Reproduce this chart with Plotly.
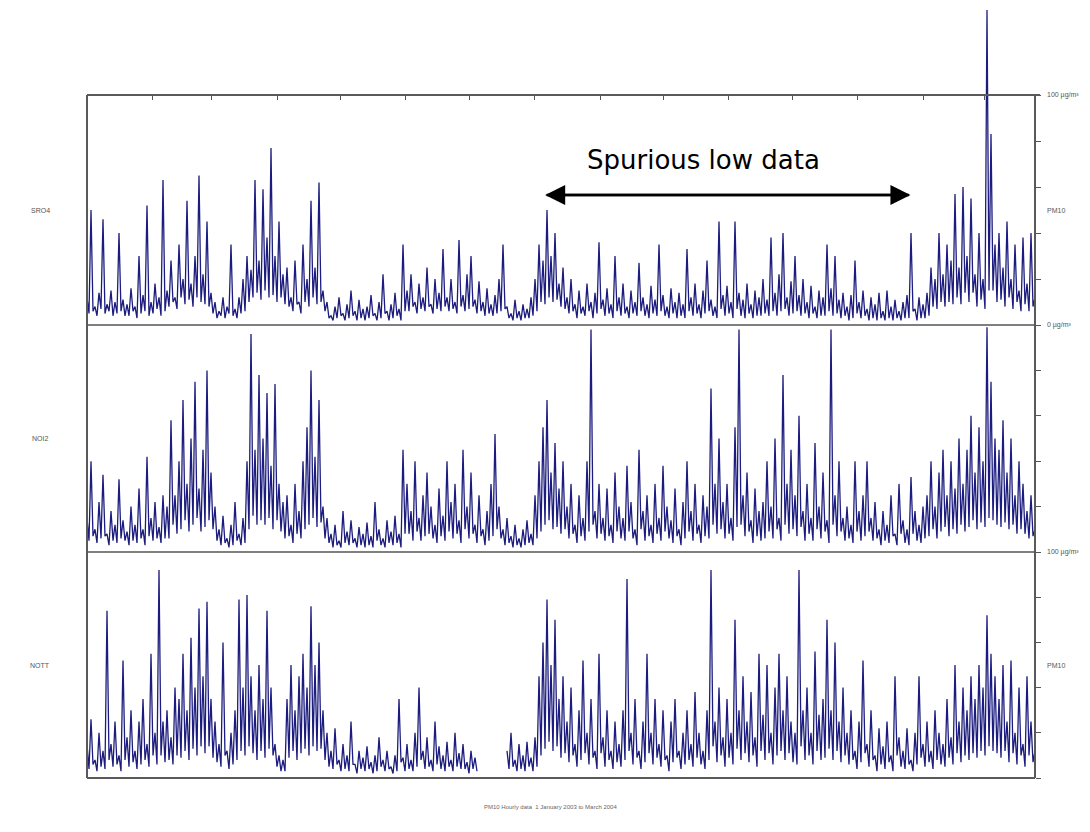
import pandas as pd
import plotly.graph_objects as go

# Hourly PM10 (µg/m³) at three monitoring sites, summarised per time step
# as the step's peak reading and its lowest reading.
site_names = ["SRO4", "NOI2", "NOTT"]

sro4_peak = [
    12, 50, 8, 14, 46, 9, 15, 10, 40, 11,
    9, 16, 8, 30, 13, 52, 10, 18, 12, 63,
    15, 28, 12, 35, 20, 54, 18, 30, 65, 22,
    45, 14, 10, 6, 12, 8, 35, 7, 12, 20,
    30, 24, 63, 28, 59, 38, 77, 30, 45, 22,
    25, 12, 28, 10, 35, 20, 54, 25, 62, 15,
    10, 4, 8, 12, 5, 9, 15, 6, 11, 7,
    8, 13, 5, 10, 22, 6, 9, 14, 7, 35,
    15, 22, 10, 18, 12, 25, 9, 20, 14, 33,
    12, 20, 10, 37, 13, 22, 30, 11, 19, 10,
    16, 9, 13, 20, 35, 8, 5, 11, 6, 9,
    7, 12, 20, 35, 28, 50, 30, 40, 18, 25,
    12, 20, 9, 15, 8, 18, 10, 14, 36, 11,
    16, 9, 30, 12, 18, 8, 15, 10, 27, 12,
    9, 17, 11, 35, 13, 8, 16, 10, 14, 9,
    33, 12, 18, 9, 15, 28, 11, 8, 45, 13,
    17, 10, 45, 14, 11, 18, 9, 15, 12, 20,
    11, 38, 14, 22, 40, 12, 19, 30, 13, 20,
    10, 17, 8, 15, 12, 35, 16, 30, 11, 14,
    8, 13, 28, 10, 15, 7, 12, 9, 14, 6,
    15, 8, 11, 6, 10, 13, 40, 7, 12, 9,
    14, 25, 20, 40, 22, 35, 28, 57, 25, 60,
    30, 55, 22, 40, 20, 137, 83, 35, 40, 25,
    45, 20, 35, 15, 38, 18, 40, 12,
]
sro4_low = [
    5, 6, 4, 7, 5, 6, 4, 5, 6, 4,
    4, 6, 3, 5, 6, 4, 5, 7, 4, 6,
    8, 10, 7, 12, 9, 11, 8, 12, 10, 9,
    8, 5, 3, 4, 3, 5, 4, 3, 5, 6,
    10, 12, 14, 11, 15, 12, 13, 10, 12, 9,
    8, 6, 9, 5, 10, 8, 12, 9, 10, 6,
    3, 2, 3, 4, 2, 3, 4, 2, 3, 2,
    3, 4, 2, 3, 5, 2, 3, 4, 2, 6,
    6, 8, 5, 7, 6, 8, 5, 7, 6, 8,
    6, 7, 5, 8, 6, 7, 8, 5, 6, 4,
    5, 4, 5, 6, 7, 3, 2, 3, 2, 3,
    3, 4, 6, 10, 9, 12, 10, 11, 8, 7,
    5, 6, 3, 5, 4, 6, 3, 5, 7, 4,
    5, 3, 6, 4, 5, 3, 5, 4, 6, 4,
    3, 5, 4, 6, 4, 3, 5, 3, 4, 3,
    6, 4, 5, 3, 5, 6, 4, 3, 7, 4,
    5, 3, 7, 4, 3, 5, 3, 4, 4, 5,
    4, 6, 4, 6, 7, 4, 5, 6, 4, 5,
    3, 5, 3, 4, 4, 6, 4, 5, 3, 4,
    2, 3, 5, 3, 4, 2, 3, 2, 3, 2,
    3, 2, 3, 2, 3, 3, 6, 2, 3, 3,
    4, 8, 7, 10, 8, 10, 9, 12, 9, 14,
    10, 14, 8, 11, 7, 15, 15, 10, 11, 8,
    12, 7, 10, 6, 9, 6, 8, 4,
]

noi2_peak = [
    15, 40, 10, 22, 34, 8, 18, 12, 32, 14,
    9, 20, 12, 28, 10, 42, 15, 22, 11, 25,
    20, 58, 25, 40, 67, 30, 50, 75, 28, 45,
    80, 35, 20, 10, 16, 6, 12, 22, 8, 15,
    40, 96, 45, 78, 50, 70, 38, 74, 30, 22,
    25, 12, 30, 18, 40, 55, 80, 42, 67, 20,
    15, 8, 12, 5, 18, 9, 14, 6, 11, 8,
    13, 7, 22, 10, 6, 14, 9, 16, 8, 45,
    30, 18, 40, 15, 25, 35, 20, 12, 28, 16,
    40, 22, 30, 14, 45, 20, 35, 12, 25, 10,
    18, 30, 52, 20, 10, 15, 7, 12, 6, 10,
    14, 8, 25, 40, 55, 67, 35, 48, 28, 40,
    20, 30, 12, 25, 15, 40, 98, 18, 30, 15,
    28, 12, 35, 20, 15, 38, 22, 10, 45, 18,
    25, 12, 30, 15, 38, 20, 14, 28, 10, 22,
    40, 18, 30, 12, 25, 20, 72, 30, 50, 22,
    30, 15, 55, 98, 25, 35, 14, 28, 18, 22,
    40, 20, 50, 15, 78, 30, 45, 25, 60, 18,
    30, 15, 48, 20, 35, 14, 98, 25, 40, 15,
    20, 12, 40, 18, 25, 40, 15, 22, 10, 18,
    12, 25, 8, 30, 14, 10, 33, 18, 12, 20,
    25, 40, 20, 35, 45, 25, 40, 28, 50, 30,
    45, 60, 35, 55, 40, 99, 75, 50, 45, 58,
    35, 50, 25, 40, 30, 18, 25, 10,
]
noi2_low = [
    5, 7, 4, 6, 7, 3, 5, 4, 6, 5,
    3, 5, 4, 6, 3, 7, 5, 6, 4, 6,
    6, 12, 8, 10, 14, 9, 12, 15, 9, 11,
    14, 10, 5, 3, 4, 2, 3, 5, 3, 4,
    10, 16, 12, 14, 12, 15, 10, 14, 9, 6,
    7, 4, 8, 6, 10, 12, 15, 11, 13, 6,
    4, 2, 3, 2, 4, 3, 4, 2, 3, 2,
    3, 2, 5, 3, 2, 4, 3, 4, 2, 8,
    8, 5, 9, 5, 7, 8, 6, 4, 7, 5,
    9, 6, 8, 4, 10, 6, 8, 4, 7, 3,
    5, 7, 10, 6, 3, 4, 2, 3, 2, 3,
    4, 3, 6, 9, 12, 14, 10, 11, 8, 10,
    6, 8, 4, 7, 5, 9, 12, 6, 8, 5,
    7, 4, 9, 6, 5, 9, 6, 3, 10, 5,
    7, 4, 8, 5, 9, 6, 4, 7, 3, 6,
    9, 5, 8, 4, 7, 6, 12, 8, 10, 6,
    8, 5, 11, 12, 7, 9, 4, 7, 5, 6,
    9, 6, 10, 5, 12, 8, 10, 7, 11, 5,
    8, 5, 10, 6, 9, 4, 12, 7, 9, 5,
    6, 4, 9, 5, 7, 9, 5, 6, 3, 5,
    4, 7, 3, 8, 4, 3, 8, 5, 4, 6,
    7, 10, 6, 9, 11, 7, 10, 8, 12, 9,
    11, 14, 10, 13, 11, 15, 14, 12, 11, 13,
    10, 12, 8, 10, 8, 6, 7, 3,
]

nott_peak = [
    15, 26, 8, 20, 12, 74, 15, 25, 10, 52,
    18, 30, 12, 25, 35, 15, 55, 20, 92, 25,
    30, 18, 40, 35, 55, 30, 62, 40, 75, 45,
    78, 35, 25, 15, 60, 12, 20, 30, 79, 40,
    81, 45, 30, 50, 35, 74, 40, 15, 10, 8,
    35, 50, 30, 45, 55, 40, 76, 50, 60, 30,
    20, 12, 22, 8, 15, 10, 25, 6, 12, 9,
    14, 7, 10, 18, 8, 12, 5, 10, 35, 9,
    15, 8, 20, 40, 12, 18, 8, 25, 14, 10,
    16, 8, 20, 11, 15, 7, 12, 9, None, None,
    None, None, None, None, None, 12, 20, 8, 15, 10,
    16, 9, 18, 45, 60, 79, 50, 70, 35, 45,
    25, 40, 15, 30, 52, 20, 35, 12, 55, 18,
    30, 12, 25, 15, 30, 88, 20, 35, 12, 25,
    55, 20, 35, 15, 30, 10, 25, 35, 12, 20,
    30, 15, 38, 20, 12, 30, 92, 25, 40, 18,
    35, 20, 70, 30, 45, 25, 38, 18, 55, 28,
    50, 20, 40, 55, 30, 45, 25, 20, 92, 30,
    40, 20, 56, 28, 35, 70, 30, 60, 25, 40,
    20, 30, 12, 25, 52, 15, 30, 10, 22, 14,
    25, 10, 45, 18, 12, 22, 8, 20, 45, 15,
    25, 12, 30, 20, 15, 35, 18, 50, 25, 40,
    30, 45, 35, 50, 40, 72, 55, 45, 35, 50,
    25, 52, 20, 40, 15, 45, 25, 12,
]
nott_low = [
    4, 6, 3, 5, 4, 8, 5, 6, 3, 8,
    5, 7, 4, 6, 8, 5, 10, 6, 10, 7,
    8, 6, 10, 9, 12, 8, 13, 10, 14, 11,
    14, 9, 7, 5, 10, 4, 6, 8, 12, 10,
    14, 11, 8, 12, 9, 13, 10, 5, 3, 3,
    9, 12, 8, 11, 13, 10, 14, 12, 13, 8,
    5, 4, 6, 3, 4, 3, 6, 2, 4, 3,
    4, 2, 3, 5, 3, 4, 2, 3, 7, 3,
    4, 3, 5, 8, 4, 5, 3, 6, 4, 3,
    5, 3, 5, 4, 4, 2, 4, 3, None, None,
    None, None, None, None, None, 4, 5, 3, 4, 3,
    5, 3, 5, 10, 13, 16, 12, 14, 9, 11,
    7, 10, 5, 8, 11, 6, 9, 4, 11, 5,
    8, 4, 7, 5, 8, 12, 6, 9, 4, 7,
    11, 6, 9, 5, 8, 3, 7, 9, 4, 6,
    8, 5, 9, 6, 4, 8, 14, 7, 10, 5,
    9, 6, 13, 8, 11, 7, 10, 5, 12, 8,
    11, 6, 10, 12, 8, 11, 7, 6, 14, 8,
    10, 6, 12, 8, 9, 13, 8, 12, 7, 10,
    6, 8, 4, 7, 11, 5, 8, 3, 6, 4,
    7, 3, 10, 5, 4, 6, 3, 6, 9, 5,
    7, 4, 8, 6, 5, 9, 6, 11, 7, 10,
    8, 11, 9, 12, 10, 14, 12, 11, 9, 12,
    7, 11, 6, 10, 5, 10, 7, 4,
]

y_ticks = [0, 20, 40, 60, 80, 100]
start, end = "2003-01-01", "2004-03-25"
peak_times = pd.date_range(start, end, periods=len(sro4_peak))
half_step = (peak_times[1] - peak_times[0]) / 2
low_times = peak_times + half_step
month_ticks = pd.date_range("2003-02-01", "2004-03-01", freq="MS")


def interleave(peaks, lows):
    """Alternate each step's peak reading with its low reading."""
    xs, ys = [], []
    for tp, tl, p, lo in zip(peak_times, low_times, peaks, lows):
        xs += [tp, tl]
        ys += [p, lo]
    return xs, ys


W, H = 1090, 832
x_dom = [87 / W, 1035 / W]
# panel boundaries in pixel rows (top of page = 0)
top_px, sep1_px, sep2_px, bot_px = 95, 325, 552, 778


def fy(px):
    return 1 - px / H


line_color = "#1c1c7e"
fig = go.Figure()

series = [(nott_peak, nott_low), (noi2_peak, noi2_low), (sro4_peak, sro4_low)]
axes = ["y", "y2", "y3"]
for (peaks, lows), ax in zip(series, axes):
    xs, ys = interleave(peaks, lows)
    fig.add_trace(go.Scatter(
        x=xs, y=ys, yaxis=ax, mode="lines",
        line=dict(color=line_color, width=1.3),
        connectgaps=False, showlegend=False, hoverinfo="skip",
    ))

# top panel extends upward so its tallest peak can rise above the frame
top_panel_max = 100 * sep1_px / (sep1_px - top_px)

yaxis_common = dict(
    side="right", ticks="outside", ticklen=5, tickcolor="#555",
    tickvals=y_ticks, showticklabels=False, showgrid=False,
    zeroline=False, showline=False, anchor="x", fixedrange=True,
)

fig.update_layout(
    width=W, height=H,
    margin=dict(l=0, r=0, t=0, b=0),
    paper_bgcolor="white", plot_bgcolor="rgba(0,0,0,0)",
    xaxis=dict(
        type="date", domain=x_dom, range=[start, end],
        anchor="free", position=fy(top_px), side="top",
        tickvals=month_ticks, ticks="inside", ticklen=4, tickcolor="#555",
        showticklabels=False, showgrid=False, zeroline=False, showline=False,
    ),
    yaxis=dict(domain=[fy(bot_px), fy(sep2_px)], range=[0, 100], **yaxis_common),
    yaxis2=dict(domain=[fy(sep2_px), fy(sep1_px)], range=[0, 100], **yaxis_common),
    yaxis3=dict(domain=[fy(sep1_px), 1.0], range=[0, top_panel_max], **yaxis_common),
)

# frame and panel separators
frame = dict(color="#5a5a5a", width=2)
x0p, x1p = x_dom
shapes = [
    dict(type="line", xref="paper", yref="paper", x0=x0p, x1=x0p, y0=fy(bot_px), y1=fy(top_px), line=frame),
    dict(type="line", xref="paper", yref="paper", x0=x1p, x1=x1p, y0=fy(bot_px), y1=fy(top_px), line=frame),
    dict(type="line", xref="paper", yref="paper", x0=x0p, x1=1040 / W, y0=fy(top_px), y1=fy(top_px), line=frame),
    dict(type="line", xref="paper", yref="paper", x0=x0p, x1=x1p, y0=fy(bot_px), y1=fy(bot_px), line=frame),
    dict(type="line", xref="paper", yref="paper", x0=x0p, x1=x1p, y0=fy(sep1_px), y1=fy(sep1_px), line=dict(color="#555", width=1.5)),
    dict(type="line", xref="paper", yref="paper", x0=x0p, x1=x1p, y0=fy(sep2_px), y1=fy(sep2_px), line=dict(color="#555", width=1.5)),
]
fig.update_layout(shapes=shapes)

small = dict(family="Arial, Liberation Sans, sans-serif", size=7, color="#555")
label_x = 1045 / W
annotations = []
# site names on the left
for name, ax in zip(site_names, ["y3", "y2", "y"]):
    annotations.append(dict(text=name, xref="paper", yref=ax, x=40 / W, y=50,
                            showarrow=False, font=small, xanchor="center"))
# right-hand scale labels
right_labels = [
    ("100 µg/m³", "y3", 100), ("PM10", "y3", 50), ("0 µg/m³", "y3", 0),
    ("100 µg/m³", "y", 100), ("PM10", "y", 50), ("0 µg/m³", "y", -3),
]
for txt, ax, v in right_labels:
    annotations.append(dict(text=txt, xref="paper", yref=ax, x=label_x, y=v,
                            showarrow=False, font=small, xanchor="left"))
# caption
annotations.append(dict(text="PM10 Hourly data  1 January 2003 to March 2004",
                        xref="paper", yref="paper", x=550 / W, y=fy(812),
                        showarrow=False, font=dict(family="Arial, sans-serif", size=6, color="#666")))

# highlighted period of suspect readings: a double-headed arrow
arrow_a, arrow_b = "2003-08-06", "2004-01-26"
arrow_y = fy(195)
for tip, tail in ((arrow_a, arrow_b), (arrow_b, arrow_a)):
    annotations.append(dict(
        x=tip, y=arrow_y, xref="x", yref="paper",
        ax=tail, ay=0, axref="x", ayref="pixel",
        showarrow=True, arrowhead=2, arrowsize=1.6, arrowwidth=2.5,
        arrowcolor="black", text="",
    ))
annotations.append(dict(text="Spurious low data", xref="x", yref="paper",
                        x="2003-10-20", y=fy(160), yanchor="middle",
                        showarrow=False,
                        font=dict(family="DejaVu Sans, Verdana, sans-serif", size=26, color="black")))
fig.update_layout(annotations=annotations)

fig.write_html("out.html")
